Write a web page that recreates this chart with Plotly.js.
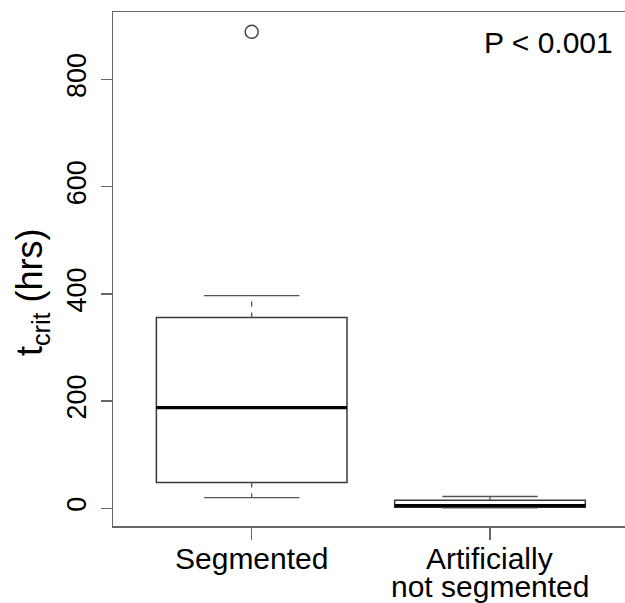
<!DOCTYPE html>
<html>
<head>
<meta charset="utf-8">
<script src="https://cdn.plot.ly/plotly-3.0.1.min.js"></script>
<style>html,body{margin:0;padding:0;background:#fff;overflow:hidden;width:625px;height:603px;}#chart{width:625px;height:603px;overflow:hidden;}</style>
</head>
<body>
<div id="chart"></div>
<script>
// ---- data ----
var categories = ['Segmented', 'Artificially\nnot segmented'];
var positions = [1, 2];
var lowerWhisker = [20, 1];
var q1 = [48, 2];
var median = [188, 5];
var q3 = [356, 15];
var upperWhisker = [397, 22];
var outlierX = [1];
var outlierY = [889];
var yTicks = [0, 200, 400, 600, 800];
var pLabel = 'P < 0.001';
var yTitle = 't<sub>crit</sub> (hrs)';

// ---- build traces ----
var boxHalf = 0.4, capHalf = 0.2;
var traces = [];

// dashed whiskers
var wx = [], wy = [];
positions.forEach(function (p, i) {
  wx.push(p, p, null, p, p, null);
  wy.push(q1[i], lowerWhisker[i], null, q3[i], upperWhisker[i], null);
});
traces.push({type: 'scatter', mode: 'lines', x: wx, y: wy, hoverinfo: 'skip',
  line: {color: '#555', width: 1.3, dash: '5px,6px'}, showlegend: false});

// whisker caps
var cx = [], cy = [];
positions.forEach(function (p, i) {
  cx.push(p - capHalf, p + capHalf, null, p - capHalf, p + capHalf, null);
  cy.push(lowerWhisker[i], lowerWhisker[i], null, upperWhisker[i], upperWhisker[i], null);
});
traces.push({type: 'scatter', mode: 'lines', x: cx, y: cy, hoverinfo: 'skip',
  line: {color: '#555', width: 1.3}, showlegend: false});

// boxes
traces.push({type: 'box', x: positions, q1: q1, median: median, q3: q3,
  lowerfence: q1, upperfence: q3, width: 2 * boxHalf, whiskerwidth: 0,
  fillcolor: '#ffffff', line: {color: '#3a3a3a', width: 1.5}, boxpoints: false,
  hoverinfo: 'skip', showlegend: false});

// thick medians
var mx = [], my = [];
positions.forEach(function (p, i) {
  mx.push(p - boxHalf, p + boxHalf, null);
  my.push(median[i], median[i], null);
});
traces.push({type: 'scatter', mode: 'lines', x: mx, y: my, hoverinfo: 'skip',
  line: {color: '#000', width: 3.2}, showlegend: false});

// outliers
traces.push({type: 'scatter', mode: 'markers', x: outlierX, y: outlierY,
  marker: {symbol: 'circle-open', size: 13, color: '#444', line: {width: 1.5, color: '#444'}},
  showlegend: false});

// ---- layout ----
var W = 640, L = 113, T = 12, B = 77, H = 603 - T - B, PW = W - L;
function py(pix) { return (603 - B - pix) / H; }
var FONT = 'Liberation Sans, Arial, sans-serif';

var annotations = [];
categories.forEach(function (c, i) {
  c.split('\n').forEach(function (line, k) {
    annotations.push({xref: 'x', yref: 'paper', x: positions[i], y: py(558 + 28 * k),
      text: line, showarrow: false, xanchor: 'center', yanchor: 'middle',
      font: {family: FONT, size: 30, color: '#000'}});
  });
});
annotations.push({xref: 'paper', yref: 'paper', x: (615 - L) / PW, y: py(42),
  text: pLabel, showarrow: false, xanchor: 'right', yanchor: 'middle',
  font: {family: FONT, size: 30, color: '#000'}});
annotations.push({xref: 'paper', yref: 'paper', x: 0, xshift: -(L - 32), y: py(292),
  text: yTitle, textangle: -90, showarrow: false, xanchor: 'center', yanchor: 'middle',
  font: {family: FONT, size: 36, color: '#000'}});

var layout = {
  width: W, height: 603, autosize: false,
  margin: {l: L, r: 0, t: T, b: B, pad: 0},
  paper_bgcolor: '#fff', plot_bgcolor: '#fff',
  showlegend: false,
  xaxis: {range: [0.418, 0.418 + PW / 238.3], tickvals: positions, showticklabels: false,
    showgrid: false, zeroline: false, showline: true, mirror: true,
    linecolor: '#666', linewidth: 1.5, ticks: 'outside', ticklen: 12,
    tickcolor: '#666', tickwidth: 1.3, fixedrange: true},
  yaxis: {range: [-33, 926], tickvals: yTicks, tickangle: -90,
    showgrid: false, zeroline: false, showline: true, mirror: true,
    linecolor: '#666', linewidth: 1.5, ticks: 'outside', ticklen: 11,
    tickcolor: '#666', tickwidth: 1.3, ticklabelstandoff: 4,
    tickfont: {family: FONT, size: 27, color: '#000'},
    fixedrange: true},
  annotations: annotations
};

Plotly.newPlot('chart', traces, layout, {displayModeBar: false, staticPlot: true});
</script>
</body>
</html>
